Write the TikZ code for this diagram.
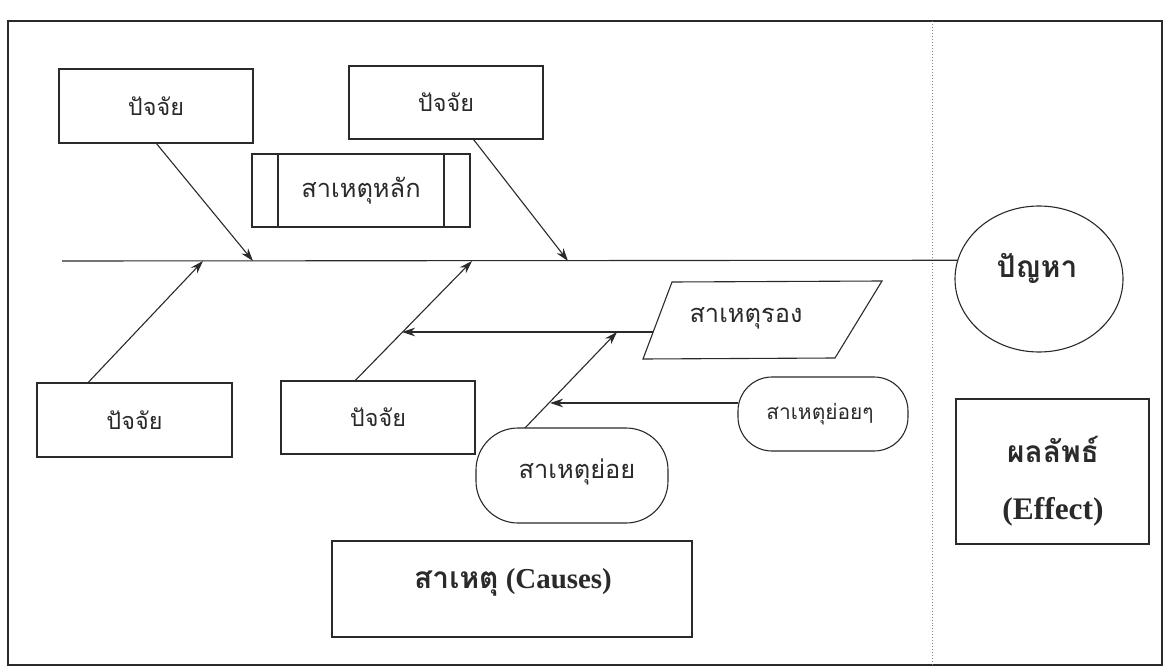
\documentclass[tikz,border=0pt]{standalone}
\usepackage{fontspec}
\setmainfont{Liberation Serif}
\newfontfamily\thai[Script=Thai]{Loma}
\usetikzlibrary{shapes.geometric,arrows.meta,calc}
\definecolor{ink}{HTML}{2A2A2A}
\begin{document}
\begin{tikzpicture}[x=1bp,y=-1bp,
  every node/.style={inner sep=0pt, outer sep=0pt, text=ink},
  line/.style={draw=ink, line width=1.1bp},
  box/.style={line, rectangle},
  stad/.style={line, rectangle},
  th/.style={font=\thai\fontsize{25.5}{30}\selectfont},
  thf/.style={font=\thai\fontsize{23.5}{28}\selectfont},
  ths/.style={font=\thai\fontsize{21}{25}\selectfont},
  thb/.style={font=\thai\bfseries\fontsize{30}{34}\selectfont},
  arr/.style={line, -{Stealth[length=13bp,width=8.5bp]}}
]
\useasboundingbox (0,0) rectangle (1165,670);
% frame and divider
\draw[line] (8,21) rectangle (1162,665);
\draw[draw=gray, line width=1bp, dotted] (932,21) -- (932,665);

% factor boxes
\node[box, thf, minimum width=194bp, minimum height=74bp] (f1) at (156,106) {ปัจจัย};
\node[box, thf, minimum width=194bp, minimum height=73bp] (f2) at (446,102.5) {ปัจจัย};
\node[box, thf, minimum width=195bp, minimum height=74bp] (f3) at (134.5,420) {ปัจจัย};
\node[box, thf, minimum width=194bp, minimum height=73bp] (f4) at (378,417.5) {ปัจจัย};

% main cause (predefined process)
\node[box, th, minimum width=218bp, minimum height=73bp] (m) at (361,190.5) {สาเหตุหลัก};
\draw[line] ($(m.north west)+(26,0)$) -- ($(m.south west)+(26,0)$);
\draw[line] ($(m.north east)+(-26,0)$) -- ($(m.south east)+(-26,0)$);

% problem
\node[line, ellipse, minimum width=168bp, minimum height=146bp] (p) at (1039,279) {};
\node[thb] (pt) at (1037,268) {ปัญหา};

% spine
\coordinate (sp0) at (62,261);
\draw[line] (sp0) -- (p.167.5);

% secondary cause parallelogram
\coordinate (q1) at (672,282);
\coordinate (q2) at (882,281);
\coordinate (q3) at (835,358);
\coordinate (q4) at (643,359);
\draw[line] (q1) -- (q2) -- (q3) -- (q4) -- cycle;
\node[th] (qt) at (746,318) {สาเหตุรอง};
\coordinate (qL) at (653,332);

% sub causes
\node[stad, minimum width=192bp, minimum height=95bp, rounded corners=42bp] (s1) at (572,475.5) {};
\node[th] (s1t) at (577,472) {สาเหตุย่อย};
\node[stad, minimum width=170bp, minimum height=74bp, rounded corners=34bp] (s2) at (823,414) {};
\node[ths] (s2t) at (820,414) {สาเหตุย่อยๆ};

% effect box
\node[box, minimum width=193bp, minimum height=145bp] (e) at (1052.5,471.5) {};
\node[thb] (et1) at (1053,449) {ผลลัพธ์};
\node[font=\bfseries\fontsize{31.5}{36}\selectfont] (et2) at (1053,512) {(Effect)};

% causes box
\node[box, minimum width=360bp, minimum height=96bp] (c) at (512,589) {};
\node[font=\bfseries\fontsize{29}{32}\selectfont] (ct) at (513,582) {{\thai\bfseries\fontsize{30}{33}\selectfont สาเหตุ} (Causes)};

% spine junctions
\coordinate (j1) at (253,261);
\coordinate (j2) at (568,261);
\coordinate (j3) at (203,261);
\coordinate (j4) at (472,261);
\coordinate (j5) at (402,332);
\coordinate (j6) at (617,332);
\coordinate (j7) at (550,403);

% arrows
\draw[arr] (f1.south) -- (j1);
\draw[arr] ($(f2.south west)!0.64!(f2.south east)$) -- (j2);
\draw[arr] ($(f3.north west)!0.26!(f3.north east)$) -- (j3);
\draw[arr] ($(f4.north west)!0.38!(f4.north east)$) -- (j4);
\draw[arr] (qL) -- (j5);
\draw[arr] ($(s1.north west)!0.255!(s1.north east)$) -- (j6);
\draw[arr] ($(s2.west)+(0,-11)$) -- (j7);
\end{tikzpicture}
\end{document}
